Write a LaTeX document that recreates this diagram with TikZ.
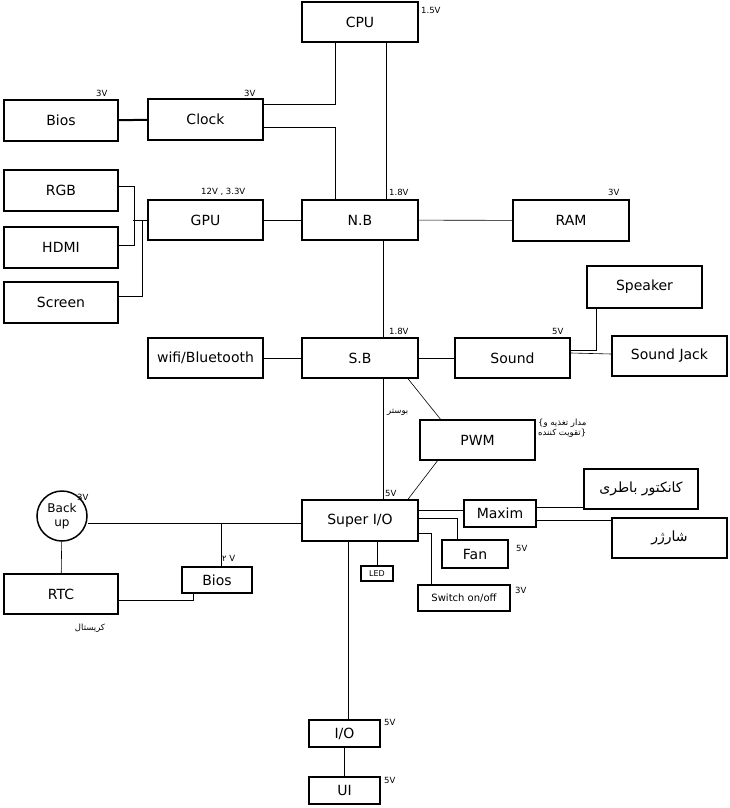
\documentclass[tikz,border=0pt]{standalone}
\usepackage{fontspec}
\setmainfont{DejaVu Sans}
\newfontfamily\fa[Script=Arabic]{DejaVu Sans}
\newcommand{\rl}[1]{{\fa\beginR #1\endR}}
\TeXXeTstate=1
\usetikzlibrary{calc,positioning}
\tikzset{
  box/.style={draw, rectangle, line width=1.5pt, inner sep=0pt, font=\fontsize{14}{16}\selectfont},
  volt/.style={inner sep=1pt, font=\fontsize{8.5}{10}\selectfont},
  wire/.style={line width=0.6pt}
}
\begin{document}
\begin{tikzpicture}[x=1pt,y=-1pt]
\useasboundingbox (0,0) rectangle (730,808);
% top blocks
\node[box, minimum width=116pt, minimum height=40pt] (cpu) at (360,22) {CPU};
\node[box, minimum width=114pt, minimum height=41pt] (bios) at (61,120.5) {Bios};
\node[box, minimum width=115pt, minimum height=41pt] (clock) at (205.5,119.5) {Clock};
\node[box, minimum width=114pt, minimum height=41pt] (rgb) at (61,190.5) {RGB};
\node[box, minimum width=114pt, minimum height=41pt] (hdmi) at (61,247.5) {HDMI};
\node[box, minimum width=114pt, minimum height=41pt] (screen) at (61,302.5) {Screen};
\node[box, minimum width=115pt, minimum height=40pt] (gpu) at (205.5,220) {GPU};
\node[box, minimum width=116pt, minimum height=40pt] (nb) at (360,220) {N.B};
\node[box, minimum width=116pt, minimum height=41pt] (ram) at (571,220.5) {RAM};
% south bridge
\node[box, minimum width=115pt, minimum height=42pt] (speaker) at (644.5,287) {Speaker};
\node[box, minimum width=115pt, minimum height=40pt] (jack) at (669.5,356) {Sound Jack};
\node[box, minimum width=115pt, minimum height=40pt] (wifi) at (205.5,358) {wifi/Bluetooth};
\node[box, minimum width=116pt, minimum height=40pt] (sb) at (360,358) {S.B};
\node[box, minimum width=115pt, minimum height=40pt] (sound) at (512.5,358) {Sound};
\node[box, minimum width=115pt, minimum height=40pt] (pwm) at (477.5,440) {PWM};
% super i/o
\node[box, minimum width=116pt, minimum height=41pt] (sio) at (360,520.5) {Super I/O};
\node[box, minimum width=72pt, minimum height=27pt] (maxim) at (500,513.5) {Maxim};
\node[box, minimum width=66pt, minimum height=28pt] (fan) at (475,554) {Fan};
\node[box, minimum width=32pt, minimum height=15pt, font=\fontsize{8}{9}\selectfont] (led) at (377,573.5) {LED};
\node[box, minimum width=92pt, minimum height=26pt, font=\fontsize{10}{12}\selectfont] (sw) at (464,598) {Switch on/off};
\node[box, minimum width=114pt, minimum height=40pt] (bat) at (641,489) {\rl{کانکتور باطری}};
\node[box, minimum width=115pt, minimum height=40pt] (chg) at (669.5,538) {\rl{شارژر}};
\node[draw, circle, line width=1.5pt, minimum size=50pt, inner sep=0pt, align=center, font=\fontsize{12}{14}\selectfont] (backup) at (62,516) {Back\\up};
\node[box, minimum width=114pt, minimum height=40pt] (rtc) at (61,594) {RTC};
\node[box, minimum width=70pt, minimum height=26pt] (bios2) at (217,580) {Bios};
\node[box, minimum width=71pt, minimum height=27pt] (io) at (344.5,733.5) {I/O};
\node[box, minimum width=71pt, minimum height=27pt] (ui) at (344.5,790.5) {UI};
% voltages
\node[volt, anchor=west] (vcpu) at (420,10) {1.5V};
\node[volt, anchor=west] (vbios) at (95,93) {3V};
\node[volt, anchor=west] (vclock) at (243,93) {3V};
\node[volt, anchor=west] (vgpu) at (200,192) {12V , 3.3V};
\node[volt, anchor=west] (vnb) at (388,192) {1.8V};
\node[volt, anchor=west] (vram) at (607,192) {3V};
\node[volt, anchor=west] (vsb) at (388,331) {1.8V};
\node[volt, anchor=west] (vsound) at (551,331) {5V};
\node[volt, anchor=west] (vsio) at (384,493) {5V};
\node[volt, anchor=west] (vfan) at (515,548) {5V};
\node[volt, anchor=west] (vsw) at (514,590) {3V};
\node[volt, anchor=west] (vbackup) at (76,497) {3V};
\node[volt, anchor=west] (vbios2) at (221,558) {{\fa ۲} V};
\node[volt, anchor=west] (vio) at (383,722) {5V};
\node[volt, anchor=west] (vui) at (383,780) {5V};
\node[volt, anchor=west] (boost) at (386,412) {\rl{بوستر}};
\node[volt, anchor=north west, align=left] (feed) at (537,418) {\{\rl{مدار تغذیه و}\\\rl{تقویت کننده}\}};
\node[volt] (crystal) at (90,628) {\rl{کریستال}};
% wires
\draw[wire] ([xshift=-25pt]cpu.south) |- ([yshift=15.5pt]clock.east);
\draw[wire] ([yshift=-7.5pt]clock.east) -| ([xshift=-25pt]nb.north);
\draw[wire] ([xshift=26pt]cpu.south) -- ([xshift=26pt]nb.north);
\draw[line width=2pt] (bios) -- (clock);
\draw[wire] ([yshift=4.5pt]rgb.east) -- ++(16,0) |- ([yshift=2.5pt]hdmi.east);
\draw[wire] (gpu.west) -- ++(-14,0);
\draw[wire] ([yshift=6.5pt]screen.east) -| ([xshift=-5pt]gpu.west);
\draw[wire] (gpu) -- (nb);
\draw[wire] (nb) -- (ram);
\draw[wire] ([xshift=23pt]nb.south) -- ([xshift=23pt]sb.north);
\draw[wire] (wifi) -- (sb);
\draw[wire] (sb) -- (sound);
\draw[wire] ([yshift=8pt]sound.east) -| ([xshift=-48.5pt]speaker.south);
\draw[wire] ([yshift=5pt]sound.east) -- ([yshift=2pt]jack.west);
\draw[wire] ([xshift=48pt]sb.south) -- ([xshift=-37pt]pwm.north);
\draw[wire] ([xshift=-40pt]pwm.south) -- ([xshift=48pt]sio.north);
\draw[wire] ([xshift=23pt]sb.south) -- ([xshift=23pt]sio.north);
\coordinate (bus) at ([yshift=-2.5pt]sio.west);
\draw[wire] (bus) -- (bus -| backup.east);
\draw[wire] ([xshift=4pt]bios2.north) -- ([xshift=4pt]bios2.north |- bus);
\draw[wire] (backup) -- (rtc);
\draw[wire] ([yshift=-6pt]rtc.east) -| ([xshift=-24pt]bios2.south);
\draw[wire] ([yshift=10.5pt]sio.east) -- ([yshift=10.5pt]sio.east -| maxim.west);
\draw[wire] ([yshift=2.5pt]sio.east) -| ([xshift=-18pt]fan.north);
\draw[wire] ([yshift=-12.5pt]sio.east) -| ([xshift=-33pt]sw.north);
\draw[wire] (led.north) -- (led.north |- sio.south);
\draw[wire] ([xshift=3.5pt]io.north) -- ([xshift=3.5pt]io.north |- sio.south);
\draw[wire] (io) -- (ui);
\draw[wire] ([yshift=6.5pt]maxim.east) -- ([yshift=6.5pt]maxim.east -| bat.west);
\draw[wire] ([yshift=-6.5pt]maxim.east) -- ([yshift=-6.5pt]maxim.east -| chg.west);
\end{tikzpicture}
\end{document}
